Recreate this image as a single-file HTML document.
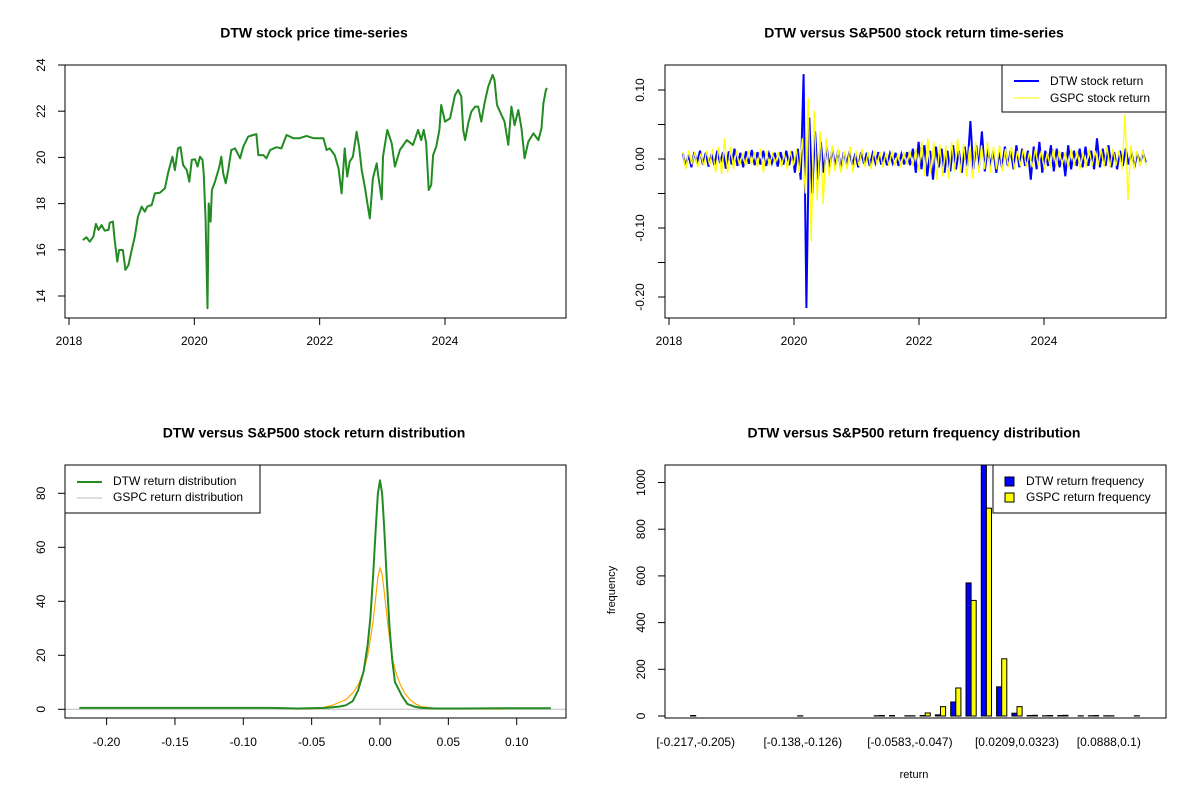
<!DOCTYPE html>
<html><head><meta charset="utf-8">
<style>
html,body{margin:0;padding:0;background:#fff;}
svg{display:block;font-family:"Liberation Sans",Arial,sans-serif;}
</style></head>
<body>
<svg id="root" width="1200" height="800" viewBox="0 0 1200 800" xmlns="http://www.w3.org/2000/svg"></svg>
<script>
// ---------- Panel 1: price ----------
const priceYears = [0.22,0.28,0.33,0.39,0.43,0.47,0.52,0.57,0.63,0.65,0.70,0.73,0.77,0.80,0.86,0.90,0.95,1.00,1.05,1.10,1.16,1.21,1.25,1.32,1.37,1.45,1.53,1.58,1.65,1.69,1.74,1.78,1.82,1.88,1.92,1.96,2.01,2.05,2.09,2.13,2.15,2.18,2.21,2.23,2.26,2.28,2.33,2.40,2.43,2.46,2.50,2.54,2.59,2.65,2.73,2.78,2.86,2.94,2.99,3.02,3.10,3.15,3.21,3.31,3.39,3.47,3.58,3.68,3.79,3.90,4.06,4.11,4.16,4.24,4.30,4.35,4.40,4.44,4.48,4.53,4.59,4.63,4.67,4.72,4.77,4.80,4.85,4.91,4.93,4.99,5.01,5.08,5.15,5.20,5.28,5.39,5.49,5.57,5.62,5.66,5.70,5.74,5.78,5.81,5.86,5.91,5.94,6.00,6.08,6.16,6.21,6.26,6.29,6.32,6.37,6.42,6.48,6.53,6.58,6.63,6.69,6.76,6.79,6.83,6.90,6.95,7.01,7.06,7.11,7.17,7.22,7.27,7.33,7.41,7.49,7.54,7.57,7.61,7.63];
const priceValues = [16.42,16.54,16.35,16.57,17.12,16.86,17.07,16.83,16.86,17.17,17.22,16.42,15.49,15.99,15.99,15.13,15.34,15.99,16.57,17.43,17.87,17.65,17.87,17.94,18.44,18.47,18.66,19.31,20.03,19.45,20.39,20.44,19.67,19.45,18.95,19.89,19.92,19.60,20.03,19.89,19.31,17.29,13.47,18.01,17.22,18.59,18.95,19.60,20.03,19.31,18.88,19.45,20.32,20.39,19.96,20.46,20.90,20.97,21.01,20.10,20.10,19.96,20.32,20.44,20.39,20.97,20.83,20.83,20.93,20.83,20.83,20.32,20.39,20.10,19.53,18.44,20.39,19.17,19.82,20.03,21.11,20.46,19.45,18.73,17.87,17.36,19.09,19.74,19.31,18.18,20.03,21.19,20.61,19.60,20.32,20.75,20.54,21.19,20.75,21.19,20.61,18.59,18.81,20.10,20.46,21.19,22.27,21.55,21.69,22.70,22.92,22.63,21.19,20.75,21.47,21.98,22.20,22.20,21.55,22.34,23.06,23.57,23.35,22.27,21.84,21.55,20.54,22.20,21.40,22.05,21.26,19.96,20.68,21.04,20.75,21.26,22.34,22.92,23.00];
const priceYTicks = [14,16,18,20,22,24];
const yearTicks = [2018,2020,2022,2024];

// ---------- Panel 2: returns ----------
const retStart = 2018.22, retEnd = 2025.63;
const dtwReturns = [0.008,-0.01,0.006,-0.012,0.01,-0.005,0.012,-0.008,0.009,-0.011,0.007,-0.009,0.012,-0.006,0.01,-0.014,0.011,-0.008,0.015,-0.01,0.009,-0.012,0.011,-0.007,0.013,-0.009,0.01,-0.008,0.012,-0.01,0.008,-0.006,0.009,-0.011,0.01,-0.008,0.012,-0.009,0.011,-0.02,0.015,-0.03,0.123,-0.216,0.06,-0.05,0.04,-0.03,0.025,-0.02,0.018,-0.012,0.014,-0.01,0.012,-0.015,0.01,-0.008,0.011,-0.009,0.008,-0.012,0.01,-0.007,0.009,-0.01,0.008,-0.006,0.01,-0.008,0.007,-0.009,0.008,-0.006,0.009,-0.01,0.007,-0.008,0.01,-0.009,0.015,-0.02,0.025,-0.015,0.02,-0.025,0.012,-0.03,0.018,-0.012,0.015,-0.02,0.012,-0.018,0.02,-0.015,0.012,-0.02,0.018,-0.01,0.055,-0.015,0.02,-0.012,0.04,-0.018,0.015,-0.01,0.012,-0.02,0.01,-0.012,0.018,-0.01,0.012,-0.015,0.02,-0.012,0.015,-0.01,0.012,-0.03,0.018,-0.015,0.025,-0.02,0.012,-0.01,0.02,-0.018,0.015,-0.012,0.01,-0.025,0.02,-0.015,0.012,-0.01,0.015,-0.012,0.018,-0.01,0.012,-0.015,0.03,-0.012,0.015,-0.01,0.02,-0.012,0.01,-0.015,0.012,-0.01,0.015,-0.008,0.01,-0.012,0.008,-0.006,0.009,-0.005];
const gspcReturns = [0.01,-0.015,0.012,-0.008,0.01,-0.012,0.008,-0.01,0.012,-0.009,0.015,-0.02,0.018,-0.022,0.03,-0.02,0.018,-0.015,0.012,-0.01,0.008,-0.01,0.012,-0.008,0.01,-0.012,0.015,-0.02,0.012,-0.01,0.008,-0.006,0.01,-0.012,0.008,-0.015,0.012,-0.01,0.015,-0.02,0.03,-0.05,0.089,-0.12,0.07,-0.06,0.04,-0.065,0.03,-0.025,0.02,-0.018,0.015,-0.02,0.012,-0.015,0.018,-0.02,0.012,-0.01,0.015,-0.012,0.01,-0.015,0.012,-0.008,0.01,-0.012,0.009,-0.01,0.012,-0.01,0.008,-0.012,0.01,-0.008,0.012,-0.01,0.015,-0.018,0.025,-0.025,0.03,-0.02,0.025,-0.03,0.022,-0.025,0.02,-0.028,0.025,-0.018,0.03,-0.02,0.022,-0.025,0.018,-0.028,0.025,-0.02,0.02,-0.015,0.025,-0.02,0.018,-0.015,0.02,-0.018,0.015,-0.012,0.018,-0.015,0.012,-0.01,0.015,-0.012,0.01,-0.012,0.015,-0.01,0.012,-0.015,0.01,-0.012,0.015,-0.01,0.012,-0.008,0.01,-0.012,0.015,-0.01,0.012,-0.015,0.01,-0.012,0.015,-0.01,0.012,-0.01,0.015,-0.012,0.018,-0.012,0.015,-0.01,0.012,-0.015,0.065,-0.06,0.02,-0.015,0.012,-0.01,0.012,-0.01];
const retYTicks = [-0.20,-0.15,-0.10,-0.05,0.00,0.05,0.10];
const retYLabels = ["-0.20","","-0.10","","0.00","","0.10"];

// ---------- Panel 3: densities ----------
const dtwDensX = [-0.22,-0.08,-0.06,-0.04,-0.03,-0.025,-0.02,-0.016,-0.012,-0.009,-0.007,-0.005,-0.003,-0.0015,0,0.0015,0.003,0.005,0.007,0.009,0.011,0.013,0.016,0.02,0.025,0.03,0.04,0.06,0.09,0.125];
const dtwDensY = [0.5,0.5,0.3,0.5,1,1.5,3,7,14,24,34,50,68,80,84.8,80,68,48,30,18,10,8,5,2,1,0.5,0.3,0.3,0.4,0.4];
const gspcDensX = [-0.062,-0.045,-0.035,-0.03,-0.025,-0.02,-0.016,-0.012,-0.009,-0.007,-0.005,-0.003,-0.0015,0,0.0015,0.003,0.005,0.007,0.009,0.012,0.015,0.018,0.022,0.026,0.03,0.04,0.06,0.09];
const gspcDensY = [0.1,0.3,1.5,2.5,3.5,6,9,14,20,26,33,42,49,52.3,50,44,35,26,19,13,9,6,3.5,2,1,0.4,0.2,0.1];
const densXTicks = [-0.20,-0.15,-0.10,-0.05,0.00,0.05,0.10];
const densYTicks = [0,20,40,60,80];

// ---------- Panel 4: histogram ----------
const binLabels = ["[-0.217,-0.205)","","","","","","","[-0.138,-0.126)","","","","","","","[-0.0583,-0.047)","","","","","","","[0.0209,0.0323)","","","","","","[0.0888,0.1)","",""];
const dtwFreq = [2,0,0,0,0,0,0,1,0,0,0,0,1,2,1,2,5,60,570,1300,125,12,2,1,2,0,1,1,0,1];
const gspcFreq = [0,0,0,0,0,0,0,0,0,0,0,0,2,0,1,13,40,120,495,890,245,40,3,2,3,1,2,1,0,0];
const freqYTicks = [0,200,400,600,800,1000];

const NS = "http://www.w3.org/2000/svg";
const root = document.getElementById("root");
function mk(tag, attrs, parent) {
  const e = document.createElementNS(NS, tag);
  for (const k in attrs) e.setAttribute(k, attrs[k]);
  (parent || root).appendChild(e);
  return e;
}
function txt(s, x, y, size, parent, opts) {
  const o = Object.assign({x: x, y: y, "font-size": size, "text-anchor": "middle", fill: "#000", "dominant-baseline": "middle"}, opts || {});
  const t = mk("text", o, parent);
  t.textContent = s;
  return t;
}
function linScale(d0, d1, r0, r1) { return v => r0 + (v - d0) * (r1 - r0) / (d1 - d0); }

// ===== Panel 1 =====
{
  const g = mk("g", {});
  
  
  const x = linScale(2018, 2024, 69, 445);
  const y = linScale(14, 24, 296, 65);
  const t = txt("DTW stock price time-series", 314, 34, 14, g, {"font-weight": "bold"});
  
  
  const pts = priceYears.map((d, i) => x(2018 + d).toFixed(1) + "," + y(priceValues[i]).toFixed(1)).join(" ");
  const line = mk("polyline", {points: pts, fill: "none", stroke: "#228B22", "stroke-width": 2, "stroke-linejoin": "round"}, g);
  
  
  const box = mk("rect", {x: 65, y: 65, width: 501, height: 253, fill: "none", stroke: "#000"}, g);
  
  
  yearTicks.forEach(v => {
    mk("line", {x1: x(v), x2: x(v), y1: 318, y2: 325, stroke: "#000"}, g);
    const l = txt(String(v), x(v), 342, 12, g);
    
    
  });
  mk("line", {x1: x(2018), x2: x(2024), y1: 318, y2: 318, stroke: "#000"}, g);
  priceYTicks.forEach(v => {
    mk("line", {x1: 58, x2: 65, y1: y(v), y2: y(v), stroke: "#000"}, g);
    const l = txt(String(v), 42, y(v), 12, g, {transform: "rotate(-90 42 " + y(v) + ")"});
    
    
  });
}

// ===== Panel 2 =====
{
  const g = mk("g", {});
  
  
  const x = linScale(2018, 2024, 669, 1044);
  const y = linScale(0, 0.10, 159, 90);
  const t = txt("DTW versus S&P500 stock return time-series", 914, 34, 14, g, {"font-weight": "bold"});
  
  
  const step = (retEnd - retStart) / (dtwReturns.length - 1);
  const p1 = dtwReturns.map((v, i) => x(retStart + i * step).toFixed(1) + "," + y(v).toFixed(1)).join(" ");
  const l1 = mk("polyline", {points: p1, fill: "none", stroke: "#0000FF", "stroke-width": 2}, g);
  
  
  const step2 = (retEnd - retStart) / (gspcReturns.length - 1);
  const p2 = gspcReturns.map((v, i) => x(retStart + i * step2).toFixed(1) + "," + y(v).toFixed(1)).join(" ");
  const l2 = mk("polyline", {points: p2, fill: "none", stroke: "#FFFF00", "stroke-width": 1.3}, g);
  
  
  const box = mk("rect", {x: 665, y: 65, width: 501, height: 253, fill: "none", stroke: "#000"}, g);
  
  
  yearTicks.forEach(v => {
    mk("line", {x1: x(v), x2: x(v), y1: 318, y2: 325, stroke: "#000"}, g);
    const l = txt(String(v), x(v), 342, 12, g);
    
    
  });
  mk("line", {x1: x(2018), x2: x(2024), y1: 318, y2: 318, stroke: "#000"}, g);
  retYTicks.forEach((v, i) => {
    mk("line", {x1: 658, x2: 665, y1: y(v), y2: y(v), stroke: "#000"}, g);
    if (retYLabels[i]) {
      const l = txt(retYLabels[i], 641, y(v), 12, g, {transform: "rotate(-90 641 " + y(v) + ")"});
      
      
    }
  });
  const lg = mk("g", {}, g);
  
  
  mk("rect", {x: 1002, y: 65, width: 164, height: 47, fill: "#fff", stroke: "#000"}, lg);
  mk("line", {x1: 1014, x2: 1039, y1: 81, y2: 81, stroke: "#0000FF", "stroke-width": 2}, lg);
  mk("line", {x1: 1014, x2: 1039, y1: 98, y2: 98, stroke: "#FFFF00", "stroke-width": 1}, lg);
  const a = txt("DTW stock return", 1050, 82, 12, lg, {"text-anchor": "start"});
  
  
  const b = txt("GSPC stock return", 1050, 99, 12, lg, {"text-anchor": "start"});
  
  
}

// ===== Panel 3 =====
{
  const g = mk("g", {});
  
  
  const x = linScale(0, 0.10, 380, 516.7);
  const y = linScale(0, 80, 709.3, 493.3);
  const t = txt("DTW versus S&P500 stock return distribution", 314, 434, 14, g, {"font-weight": "bold"});
  
  
  const zl = mk("line", {x1: 65, x2: 566, y1: y(0), y2: y(0), stroke: "#BEBEBE"}, g);
  
  
  const pg = gspcDensX.map((v, i) => x(v).toFixed(1) + "," + y(gspcDensY[i]).toFixed(1)).join(" ");
  const lgs = mk("polyline", {points: pg, fill: "none", stroke: "#FFA500", "stroke-width": 1.2}, g);
  
  
  const pd = dtwDensX.map((v, i) => x(v).toFixed(1) + "," + y(dtwDensY[i]).toFixed(1)).join(" ");
  const ld = mk("polyline", {points: pd, fill: "none", stroke: "#228B22", "stroke-width": 2, "stroke-linejoin": "round"}, g);
  
  
  const box = mk("rect", {x: 65, y: 465, width: 501, height: 253, fill: "none", stroke: "#000"}, g);
  
  
  densXTicks.forEach(v => {
    mk("line", {x1: x(v), x2: x(v), y1: 718, y2: 725, stroke: "#000"}, g);
    const l = txt(v.toFixed(2), x(v), 743, 12, g);
    
    
  });
  densYTicks.forEach(v => {
    mk("line", {x1: 58, x2: 65, y1: y(v), y2: y(v), stroke: "#000"}, g);
    const l = txt(String(v), 42, y(v), 12, g, {transform: "rotate(-90 42 " + y(v) + ")"});
    
    
  });
  const lg = mk("g", {}, g);
  
  
  mk("rect", {x: 65, y: 465, width: 195, height: 48, fill: "#fff", stroke: "#000"}, lg);
  mk("line", {x1: 77, x2: 102, y1: 482, y2: 482, stroke: "#228B22", "stroke-width": 2}, lg);
  mk("line", {x1: 77, x2: 102, y1: 498, y2: 498, stroke: "#BEBEBE", "stroke-width": 1}, lg);
  const a = txt("DTW return distribution", 113, 482, 12, lg, {"text-anchor": "start"});
  
  
  const b = txt("GSPC return distribution", 113, 498, 12, lg, {"text-anchor": "start"});
  
  
}

// ===== Panel 4 =====
{
  const g = mk("g", {});
  
  
  const ux = linScale(0, 1, 685.5, 690.6);
  const y = linScale(0, 1000, 716, 482.5);
  const t = txt("DTW versus S&P500 return frequency distribution", 914, 434, 14, g, {"font-weight": "bold"});
  
  
  const clip = mk("clipPath", {id: "histclip"}, g);
  mk("rect", {x: 665, y: 465, width: 501, height: 253}, clip);
  const bars = mk("g", {"clip-path": "url(#histclip)"}, g);
  dtwFreq.forEach((v, i) => {
    const x0 = ux(i * 3 + 1), x1 = ux(i * 3 + 2);
    const r = mk("rect", {x: x0, y: y(v), width: x1 - x0, height: y(0) - y(v), fill: "#0000FF", stroke: "#000", "stroke-width": 1}, bars);
    
    
  });
  gspcFreq.forEach((v, i) => {
    const x0 = ux(i * 3 + 2), x1 = ux(i * 3 + 3);
    const r = mk("rect", {x: x0, y: y(v), width: x1 - x0, height: y(0) - y(v), fill: "#FFFF00", stroke: "#000", "stroke-width": 1}, bars);
    
    
  });
  const box = mk("rect", {x: 665, y: 465, width: 501, height: 253, fill: "none", stroke: "#000"}, g);
  
  
  binLabels.forEach((s, i) => {
    if (!s) return;
    const l = txt(s, ux(i * 3 + 2), 743, 12, g);
    
    
  });
  freqYTicks.forEach(v => {
    mk("line", {x1: 658, x2: 665, y1: y(v), y2: y(v), stroke: "#000"}, g);
    const l = txt(String(v), 642, y(v), 12, g, {transform: "rotate(-90 642 " + y(v) + ")"});
    
    
  });
  const yt = txt("frequency", 612, 590, 11, g, {transform: "rotate(-90 612 590)"});
  
  
  const xt = txt("return", 914, 775, 11, g);
  
  
  const lg = mk("g", {}, g);
  
  
  mk("rect", {x: 993, y: 465, width: 173, height: 48, fill: "#fff", stroke: "#000"}, lg);
  mk("rect", {x: 1005, y: 477, width: 9, height: 9, fill: "#0000FF", stroke: "#000"}, lg);
  mk("rect", {x: 1005, y: 493, width: 9, height: 9, fill: "#FFFF00", stroke: "#000"}, lg);
  const a = txt("DTW return frequency", 1026, 482, 12, lg, {"text-anchor": "start"});
  
  
  const b = txt("GSPC return frequency", 1026, 498, 12, lg, {"text-anchor": "start"});
  
  
}
</script>
</body></html>
